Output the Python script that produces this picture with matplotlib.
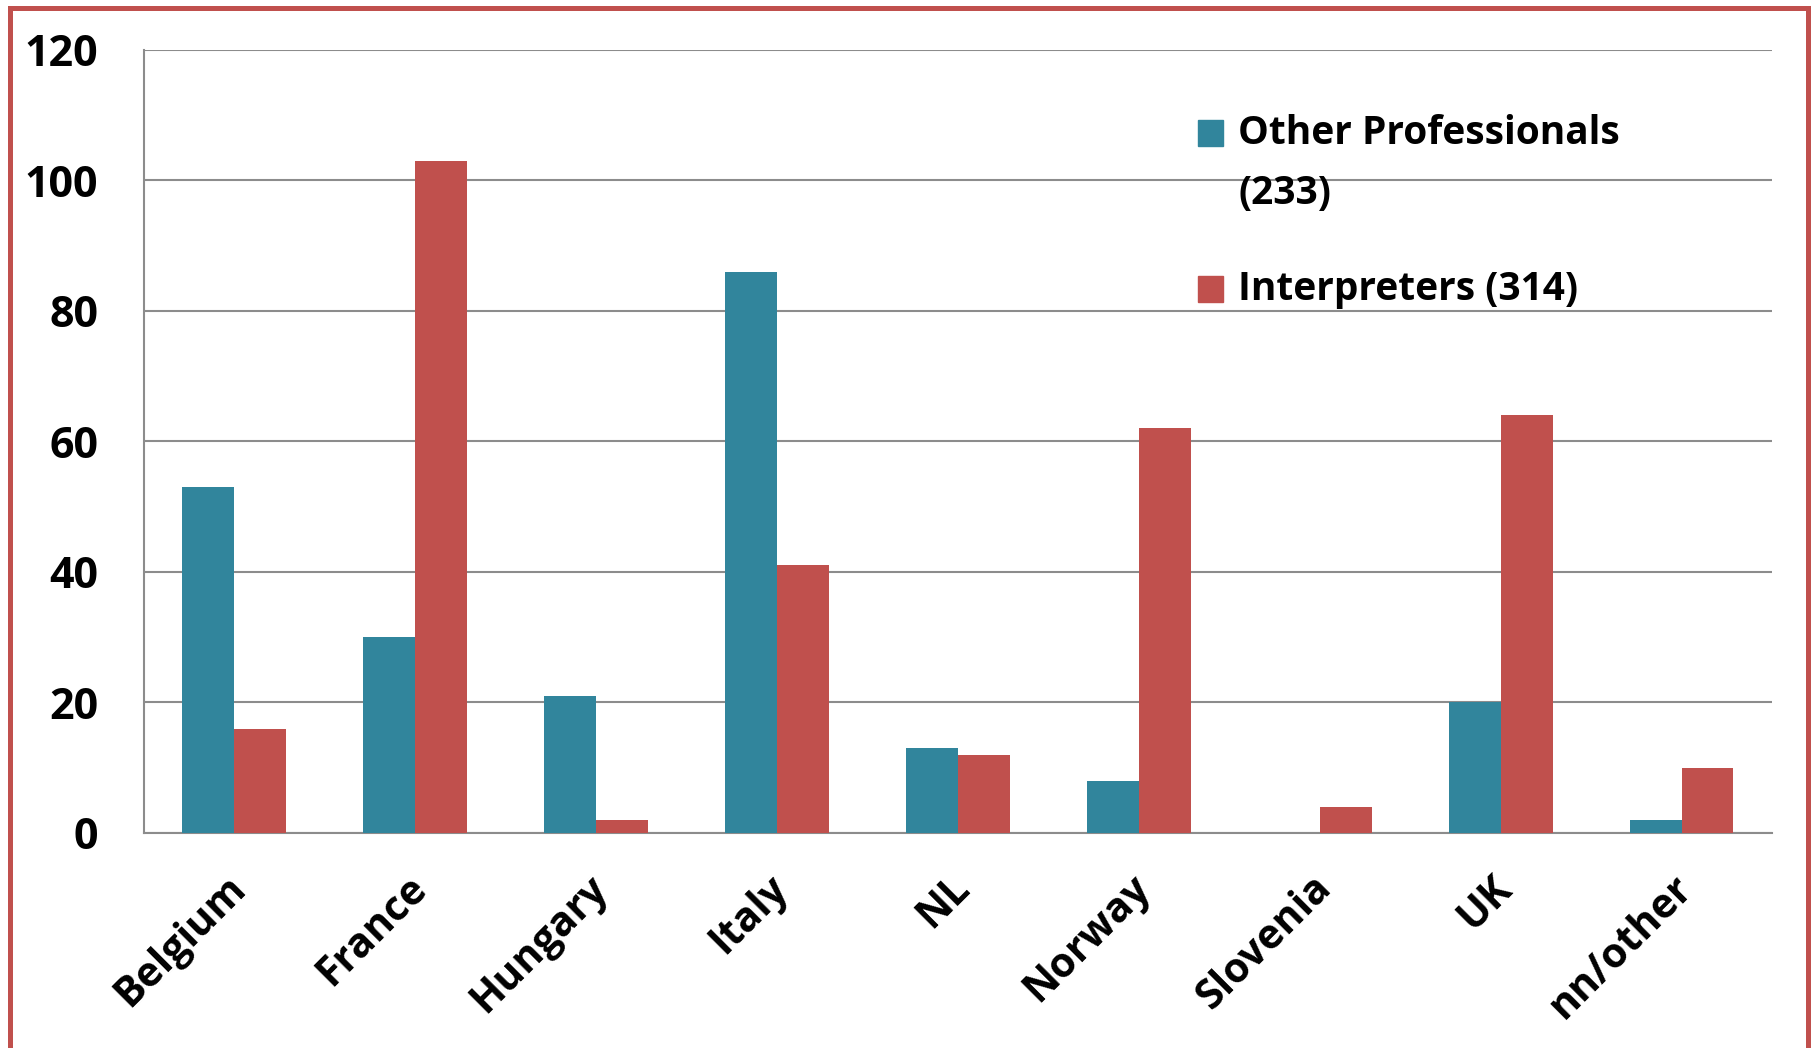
import matplotlib
matplotlib.use("Agg")
import matplotlib.pyplot as plt
import matplotlib.transforms as mtransforms
import numpy as np
from matplotlib.patches import Rectangle

countries = ["Belgium", "France", "Hungary", "Italy", "NL", "Norway",
             "Slovenia", "UK", "nn/other"]
other_prof = [53, 30, 21, 86, 13, 8, 0, 20, 2]
interpreters = [16, 103, 2, 41, 12, 62, 4, 64, 10]
label_other = f"Other Professionals\n({sum(other_prof)})"
label_interp = f"Interpreters ({sum(interpreters)})"

TEAL = "#31859C"
RED = "#C0504D"
GRID = "#8C8C8C"

plt.rcParams["font.family"] = ["Open Sans", "DejaVu Sans"]
plt.rcParams["font.weight"] = "bold"

fig = plt.figure(figsize=(18.13, 10.48), dpi=100)
ax = fig.add_axes([0.0794, 0.2052, 0.898, 0.7471])

x = np.arange(len(countries))
w = 0.287
ax.bar(x - w / 2, other_prof, w, color=TEAL, zorder=3)
ax.bar(x + w / 2, interpreters, w, color=RED, zorder=3)

ax.set_xlim(-0.5, len(countries) - 0.5)
ax.set_ylim(0, 120)
ax.set_yticks(range(0, 121, 20))
ax.yaxis.grid(True, color=GRID, linewidth=1.5, zorder=0)
ax.tick_params(axis="both", length=0)
ax.tick_params(axis="y", pad=33, labelsize=31)
ax.tick_params(axis="x", pad=25, labelsize=29.5)
ax.set_xticks(x)
ax.set_xticklabels(countries, rotation=45, ha="right", rotation_mode="anchor")
shift = mtransforms.ScaledTranslation(-9 / 100, 0, fig.dpi_scale_trans)
for lbl in ax.get_xticklabels():
    lbl.set_transform(lbl.get_transform() + shift)
for lbl in ax.get_yticklabels() + ax.get_xticklabels():
    lbl.set_fontweight("bold")

for side in ("top", "right"):
    ax.spines[side].set_visible(False)
for side in ("left", "bottom"):
    ax.spines[side].set_color(GRID)
    ax.spines[side].set_linewidth(1.5)

# legend drawn by hand so the swatch sits on the first text line
legend_rows = [(0.877, TEAL, label_other), (0.678, RED, label_interp)]
for y_sw, color, text in legend_rows:
    ax.add_patch(Rectangle((0.6474, y_sw), 0.0154, 0.033, transform=ax.transAxes,
                           color=color, clip_on=False, zorder=4))
    ax.text(0.672, y_sw + 0.0165, text.split("\n")[0], transform=ax.transAxes,
            fontsize=28, fontweight="bold", va="center", ha="left", zorder=4)
    if "\n" in text:
        ax.text(0.672, y_sw + 0.0165 - 0.0766, text.split("\n")[1],
                transform=ax.transAxes, fontsize=28, fontweight="bold",
                va="center", ha="left", zorder=4)

# outer frame, open at the bottom edge
fig.add_artist(Rectangle((9.5 / 1813, -0.05), (1807.5 - 9.5) / 1813, 1.05 - 7.5 / 1048,
                         transform=fig.transFigure, fill=False,
                         edgecolor=RED, linewidth=3.6))

fig.savefig("out.png", dpi=100)
